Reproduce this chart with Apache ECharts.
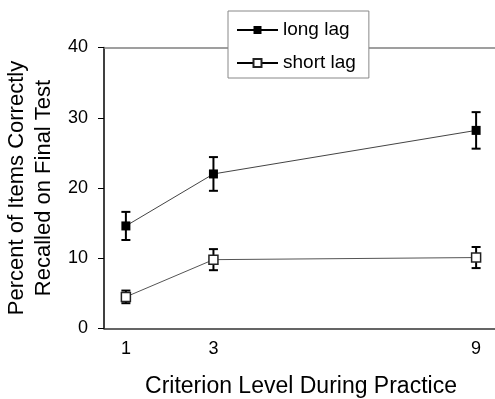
<!DOCTYPE html>
<html>
<head>
<meta charset="utf-8">
<script src="https://cdn.jsdelivr.net/npm/echarts@6/dist/echarts.min.js"></script>
<style>
html,body{margin:0;padding:0;background:#fff;}
#c{width:495px;height:399px;}
</style>
</head>
<body>
<div id="c"></div>
<script>
// ---- data ----
const criterion = [1, 3, 9];
const xTickLabels = [1, 3, 9];
const longLagMean = [14.6, 22.0, 28.2];
const longLagErr = [2.0, 2.4, 2.6];
const shortLagMean = [4.5, 9.8, 10.1];
const shortLagErr = [0.9, 1.5, 1.5];
const yTicks = [0, 10, 20, 30, 40];

const FONT = 'Liberation Sans, Arial, Helvetica, sans-serif';

function errData(mean, err) {
  return criterion.map((x, i) => [x, mean[i] - err[i], mean[i] + err[i]]);
}
function errRender(params, api) {
  const x = api.value(0), lo = api.value(1), hi = api.value(2);
  const pT = api.coord([x, hi]), pB = api.coord([x, lo]);
  const w = 4.5;
  const st = { stroke: '#000', lineWidth: 2 };
  return {
    type: 'group',
    children: [
      { type: 'line', shape: { x1: pT[0], y1: pT[1], x2: pB[0], y2: pB[1] }, style: st },
      { type: 'line', shape: { x1: pT[0] - w, y1: pT[1], x2: pT[0] + w, y2: pT[1] }, style: st },
      { type: 'line', shape: { x1: pB[0] - w, y1: pB[1], x2: pB[0] + w, y2: pB[1] }, style: st }
    ]
  };
}

const chart = echarts.init(document.getElementById('c'), null, { renderer: 'canvas' });
chart.setOption({
  animation: false,
  backgroundColor: '#fff',
  textStyle: { fontFamily: FONT },
  grid: { left: 104, top: 47.5, width: 394, height: 281, outerBoundsMode: 'none', containLabel: false },
  legend: {
    data: ['long lag', 'short lag'],
    orient: 'vertical',
    left: 228,
    top: 11,
    padding: [9, 13, 5, 8],
    itemGap: 13,
    itemWidth: 41,
    itemHeight: 10,
    backgroundColor: '#fff',
    borderColor: '#888',
    borderWidth: 1,
    borderRadius: 0,
    lineStyle: { width: 2, color: '#000' },
    textStyle: { fontSize: 19, color: '#000', fontFamily: FONT, lineHeight: 20 },
    z: 10
  },
  xAxis: [{
    type: 'value',
    min: 0.5,
    max: 9.5,
    interval: 0.5,
    name: 'Criterion Level During Practice',
    nameLocation: 'middle',
    nameGap: 47,
    nameTextStyle: { fontSize: 23, color: '#000', fontFamily: FONT },
    axisLine: { show: true, lineStyle: { color: '#333', width: 1.5 } },
    axisTick: { show: false },
    splitLine: { show: false },
    axisLabel: {
      fontSize: 18, color: '#000', margin: 12, fontFamily: FONT,
      formatter: v => (xTickLabels.indexOf(v) >= 0 ? String(v) : '')
    }
  }, {
    type: 'value',
    position: 'top',
    min: 0.5,
    max: 9.5,
    axisLine: { show: true, lineStyle: { color: '#808080', width: 1.5 } },
    axisTick: { show: false },
    axisLabel: { show: false },
    splitLine: { show: false }
  }],
  yAxis: {
    type: 'value',
    min: yTicks[0],
    max: yTicks[yTicks.length - 1],
    interval: 10,
    name: 'Percent of Items Correctly\nRecalled on Final Test',
    nameLocation: 'middle',
    nameGap: 44,
    nameTextStyle: { fontSize: 22, color: '#000', fontFamily: FONT, lineHeight: 26.6 },
    axisLine: { show: true, lineStyle: { color: '#000', width: 1.5 } },
    axisTick: { show: true, inside: false, length: 6, lineStyle: { color: '#000', width: 1 } },
    splitLine: { show: false },
    axisLabel: { fontSize: 18, color: '#000', margin: 16, fontFamily: FONT }
  },
  series: [
    {
      type: 'custom',
      name: 'long err',
      renderItem: errRender,
      encode: { x: 0, y: [1, 2] },
      data: errData(longLagMean, longLagErr),
      z: 1
    },
    {
      type: 'custom',
      name: 'short err',
      renderItem: errRender,
      encode: { x: 0, y: [1, 2] },
      data: errData(shortLagMean, shortLagErr),
      z: 1
    },
    {
      type: 'line',
      name: 'long lag',
      data: criterion.map((x, i) => [x, longLagMean[i]]),
      symbol: 'rect',
      symbolSize: 9,
      lineStyle: { color: '#444', width: 1 },
      itemStyle: { color: '#000', borderColor: '#000', borderWidth: 0 },
      z: 3
    },
    {
      type: 'line',
      name: 'short lag',
      data: criterion.map((x, i) => [x, shortLagMean[i]]),
      symbol: 'rect',
      symbolSize: 9,
      lineStyle: { color: '#555', width: 1 },
      itemStyle: { color: '#fff', borderColor: '#222', borderWidth: 1.5 },
      z: 3
    }
  ]
});
</script>
</body>
</html>
